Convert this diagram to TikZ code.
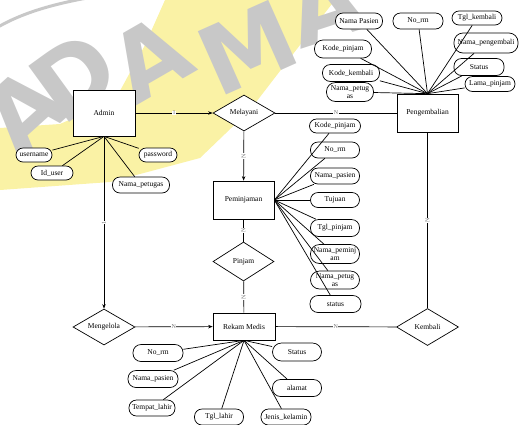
\documentclass[tikz,border=0pt]{standalone}
\usepackage{fontspec}
\setmainfont{Liberation Serif}
\newfontfamily\wmfont{DejaVu Sans}
\usetikzlibrary{shapes.geometric,arrows.meta}
\definecolor{wmyellow}{RGB}{250,242,165}
\definecolor{wmgrey}{RGB}{200,200,200}
\begin{document}
\begin{tikzpicture}[x=1pt,y=-1pt,
  ent/.style={draw,line width=0.7pt,fill=white,inner sep=0pt,font=\fontsize{7.5}{8}\selectfont},
  rel/.style={draw,diamond,line width=0.7pt,fill=white,inner sep=0pt,font=\fontsize{7.5}{8}\selectfont},
  attr/.style={draw,rounded corners=7.5pt,line width=0.7pt,fill=white,inner sep=0pt,minimum height=16pt,font=\fontsize{7.5}{8}\selectfont,align=center},
  conn/.style={line width=0.7pt},
  arr/.style={conn,-{Stealth[length=4.5pt,width=3.5pt]}},
  card/.style={font=\fontsize{6}{6}\selectfont,text=black!55,fill=white,inner sep=0.4pt},
  wm/.style={font=\wmfont\bfseries\fontsize{95}{95}\selectfont,text=wmgrey,inner sep=0pt}
]
\useasboundingbox (0,0) rectangle (519,424);
% watermark
\begin{scope}
\clip (0,0) rectangle (519,424);
\fill[wmyellow] (0,128) -- (60,124) -- (115,100) -- (145,45) -- (165,0) -- (335,0)
  -- (300,45) -- (250,110) -- (200,158) -- (110,182) -- (0,190) -- cycle;
\draw[wmgrey,line width=3pt] (-10,32) .. controls (20,12) and (60,2) .. (105,-5);
\node[wm,rotate=42] at (24,110) {A};
\node[wm,rotate=36] at (74,76) {D};
\node[wm,rotate=30] at (150,58) {A};
\node[wm,rotate=24] at (248,48) {M};
\node[wm,rotate=18] at (325,5) {A};
\end{scope}

% entities
\node[ent,minimum width=62pt,minimum height=46pt] (admin) at (104,113) {Admin};
\node[ent,minimum width=61pt,minimum height=38pt] (peng) at (427.5,113) {Pengembalian};
\node[ent,minimum width=61pt,minimum height=38pt] (pem) at (243.5,200) {Peminjaman};
\node[ent,minimum width=62pt,minimum height=27pt] (rm) at (244,326.5) {Rekam Medis};
% relationships
\node[rel,minimum width=62pt,minimum height=36pt,aspect=1.7] (mel) at (244,113) {Melayani};
\node[rel,minimum width=61pt,minimum height=39pt,aspect=1.6] (pin) at (243.5,261.5) {Pinjam};
\node[rel,minimum width=62pt,minimum height=36pt,aspect=1.7] (mng) at (104,327) {Mengelola};
\node[rel,minimum width=62pt,minimum height=37pt,aspect=1.7] (kem) at (427.5,327) {Kembali};

% admin attributes
\node[attr,minimum width=36pt,minimum height=14pt,rounded corners=7pt] (a1) at (34,155) {username};
\node[attr,minimum width=42pt,minimum height=14pt,rounded corners=7pt] (a2) at (52,173) {Id\_user};
\node[attr,minimum width=38pt,minimum height=14pt,rounded corners=7pt] (a3) at (158,155) {password};
\node[attr,minimum width=57pt,minimum height=16pt] (a4) at (141,185) {Nama\_petugas};

% pengembalian attributes
\node[attr,minimum width=47pt] (p1) at (359,21) {Nama Pasien};
\node[attr,minimum width=50pt] (p2) at (418,21) {No\_rm};
\node[attr,minimum width=50pt,minimum height=14pt,rounded corners=7pt] (p3) at (477,18) {Tgl\_kembali};
\node[attr,minimum width=64pt,minimum height=20pt,rounded corners=9pt] (p4) at (486,43) {Nama\_pengembali};
\node[attr,minimum width=50pt,minimum height=17pt] (p5) at (479,67) {Status};
\node[attr,minimum width=50pt,minimum height=15pt] (p6) at (490,84) {Lama\_pinjam};
\node[attr,minimum width=57pt,minimum height=18pt,rounded corners=8.5pt] (p7) at (343,49) {Kode\_pinjam};
\node[attr,minimum width=57pt,minimum height=17pt,rounded corners=8pt] (p8) at (351,73) {Kode\_kembali};
\node[attr,minimum width=47pt,minimum height=19pt,rounded corners=9pt,font=\fontsize{7.5}{8.5}\selectfont] (p9) at (350,92) {Nama\_petug\\as};

% peminjaman attributes
\node[attr,minimum width=51pt,minimum height=14pt,rounded corners=7pt] (m1) at (335,126) {Kode\_pinjam};
\node[attr,minimum width=49pt] (m2) at (335,150) {No\_rm};
\node[attr,minimum width=49pt] (m3) at (335,176) {Nama\_pasien};
\node[attr,minimum width=49pt,minimum height=15pt] (m4) at (335,200) {Tujuan};
\node[attr,minimum width=49pt,minimum height=17pt,rounded corners=8pt] (m5) at (335,228) {Tgl\_pinjam};
\node[attr,minimum width=49pt,minimum height=19pt,rounded corners=9pt,font=\fontsize{7.5}{8.5}\selectfont] (m6) at (335,254) {Nama\_peminj\\am};
\node[attr,minimum width=49pt,minimum height=18pt,rounded corners=9pt,font=\fontsize{7.5}{8.5}\selectfont] (m7) at (335,280) {Nama\_petug\\as};
\node[attr,minimum width=51pt,minimum height=17pt,rounded corners=8pt] (m8) at (335.5,304) {status};

% rekam medis attributes
\node[attr,minimum width=50pt,minimum height=17pt,rounded corners=8pt] (r1) at (158,353) {No\_rm};
\node[attr,minimum width=50pt,minimum height=17pt,rounded corners=8pt] (r2) at (153,379) {Nama\_pasien};
\node[attr,minimum width=46pt,minimum height=16pt] (r3) at (152,408) {Tempat\_lahir};
\node[attr,minimum width=49pt,minimum height=16pt] (r4) at (219,417) {Tgl\_lahir};
\node[attr,minimum width=50pt,minimum height=16pt] (r5) at (286,417) {Jenis\_kelamin};
\node[attr,minimum width=49pt,minimum height=17pt,rounded corners=8pt] (r6) at (297,388) {alamat};
\node[attr,minimum width=49pt,minimum height=18pt,rounded corners=9pt] (r7) at (297,352) {Status};

% attribute links
\foreach \n in {a1,a2,a3,a4} \draw[conn] (admin.south) -- (\n);
\foreach \n in {p1,p2,p3,p4,p5,p6,p7,p8,p9} \draw[conn] (peng.north) -- (\n);
\foreach \n in {m1,m2,m3,m4,m5,m6,m7,m8} \draw[conn] (pem.east) -- (\n);
\foreach \n in {r1,r2,r3,r4,r5,r6,r7} \draw[conn] (rm.south) -- (\n);

% relationship links
\draw[arr] (admin) -- node[card]{1} (mel);
\draw[conn] (mel) -- node[card]{N} (peng);
\draw[arr] (mel) -- node[card,rotate=90]{N} (pem);
\draw[conn] (pem) -- node[card,rotate=90]{N} (pin);
\draw[conn] (pin) -- node[card,rotate=90]{N} (rm);
\draw[arr] (admin.south) -- node[card,rotate=90]{1} (mng);
\draw[arr] (mng) -- node[card]{N} (rm);
\draw[conn] (rm) -- node[card]{N} (kem);
\draw[conn] (peng) -- node[card,rotate=90]{N} (kem);
\end{tikzpicture}
\end{document}
